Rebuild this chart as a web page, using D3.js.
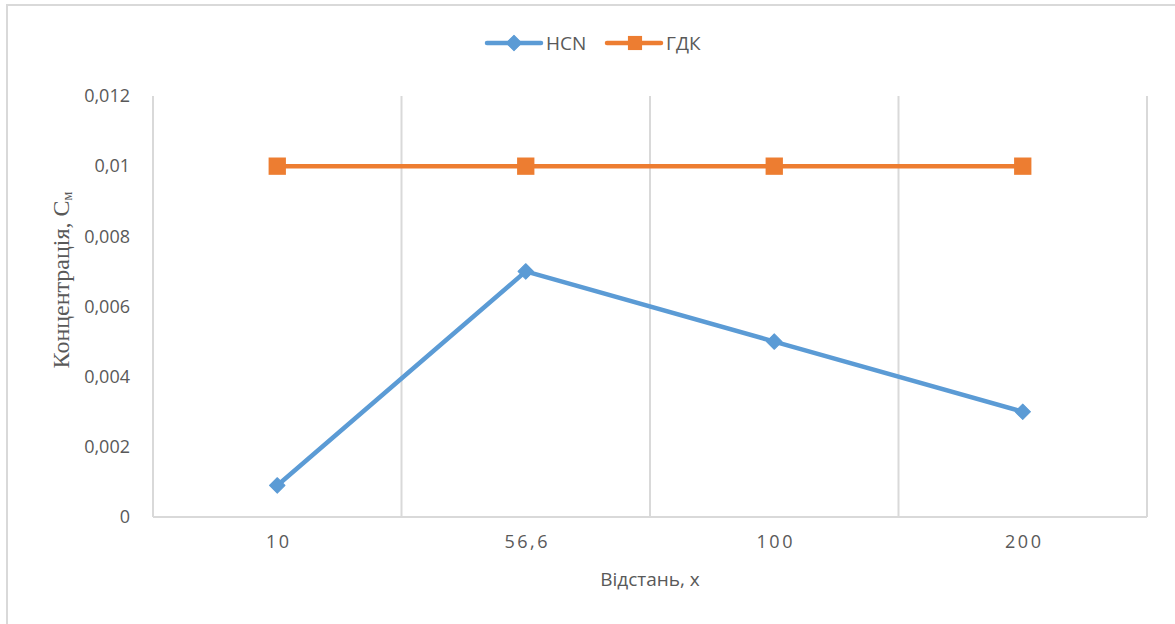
<!DOCTYPE html>
<html>
<head>
<meta charset="utf-8">
<script src="https://cdn.jsdelivr.net/npm/d3@7"></script>
<style>
  body { margin: 0; background: #fff; }
  text { font-family: "Open Sans", sans-serif; fill: #595959; }
</style>
</head>
<body>
<svg width="1175" height="624"></svg>
<script>
const categories = ['10', '56,6', '100', '200'];
const hcnValues = [0.0009, 0.007, 0.005, 0.003];
const gdkValues = [0.01, 0.01, 0.01, 0.01];
const yTicks = [0, 0.002, 0.004, 0.006, 0.008, 0.01, 0.012];
const yTickLabels = ['0', '0,002', '0,004', '0,006', '0,008', '0,01', '0,012'];

const svg = d3.select('svg');
const width = +svg.attr('width');
const height = +svg.attr('height');

// chart frame
svg.append('rect')
    .attr('x', 7).attr('y', 5)
    .attr('width', width + 10).attr('height', height + 10)
    .attr('fill', 'white')
    .attr('stroke', '#d9d9d9')
    .attr('stroke-width', 2);

const plot = { left: 153, right: 1147, top: 96, bottom: 517 };

const x = d3.scaleBand()
    .domain(categories)
    .range([plot.left, plot.right]);

const y = d3.scaleLinear()
    .domain([0, 0.012])
    .range([plot.bottom, plot.top]);

// vertical gridlines at category boundaries
const bounds = categories.map(c => x(c)).concat([plot.right]);
svg.append('g')
    .selectAll('line')
    .data(bounds)
    .join('line')
    .attr('x1', d => d).attr('x2', d => d)
    .attr('y1', plot.top).attr('y2', plot.bottom)
    .attr('stroke', '#d9d9d9')
    .attr('stroke-width', 2);

// bottom axis line
svg.append('line')
    .attr('x1', plot.left).attr('x2', plot.right)
    .attr('y1', plot.bottom).attr('y2', plot.bottom)
    .attr('stroke', '#d9d9d9')
    .attr('stroke-width', 2);

// y axis labels
const yAxis = svg.append('g')
    .attr('transform', `translate(${plot.left}, 0)`)
    .call(d3.axisLeft(y).tickValues(yTicks).tickFormat((d, i) => yTickLabels[i]).tickSize(0).tickPadding(23));
yAxis.select('.domain').remove();
yAxis.selectAll('text')
    .attr('font-size', 18)
    .attr('font-family', '"Open Sans", sans-serif')
    .attr('fill', '#595959');

// x axis labels
const xAxis = svg.append('g')
    .attr('transform', `translate(0, ${plot.bottom})`)
    .call(d3.axisBottom(x).tickSize(0).tickPadding(18));
xAxis.select('.domain').remove();
xAxis.selectAll('text')
    .attr('font-size', 18)
    .attr('font-family', '"Open Sans", sans-serif')
    .attr('fill', '#595959')
    .attr('letter-spacing', 2.5)
    .attr('dx', 1.5);

// axis titles
svg.append('text')
    .attr('x', 650).attr('y', 586)
    .attr('text-anchor', 'middle')
    .attr('font-size', 19)
    .text('Відстань, х');

const yTitle = svg.append('text')
    .attr('transform', 'translate(69, 280) rotate(-90)')
    .attr('text-anchor', 'middle')
    .style('font-family', '"Liberation Serif", "Times New Roman", serif')
    .attr('font-size', 24);
yTitle.append('tspan').text('Концентрація, С');
yTitle.append('tspan').attr('font-size', 14).attr('dy', 3).text('м');

const line = d3.line()
    .x((d, i) => x(categories[i]) + x.bandwidth() / 2)
    .y(d => y(d));

const blue = '#5b9bd5';
const orange = '#ed7d31';

// ГДК series
svg.append('path')
    .datum(gdkValues)
    .attr('d', line)
    .attr('fill', 'none')
    .attr('stroke', orange)
    .attr('stroke-width', 4.5)
    .attr('stroke-linejoin', 'round');

svg.append('g')
    .selectAll('path')
    .data(gdkValues)
    .join('path')
    .attr('d', d3.symbol(d3.symbolSquare, 300))
    .attr('transform', (d, i) => `translate(${x(categories[i]) + x.bandwidth() / 2}, ${y(d)})`)
    .attr('fill', orange);

// HCN series
svg.append('path')
    .datum(hcnValues)
    .attr('d', line)
    .attr('fill', 'none')
    .attr('stroke', blue)
    .attr('stroke-width', 4.5)
    .attr('stroke-linejoin', 'round');

svg.append('g')
    .selectAll('path')
    .data(hcnValues)
    .join('path')
    .attr('d', d3.symbol(d3.symbolSquare, 120))
    .attr('transform', (d, i) => `translate(${x(categories[i]) + x.bandwidth() / 2}, ${y(d)}) rotate(45)`)
    .attr('fill', blue)
    .attr('stroke', blue)
    .attr('stroke-width', 1)
    .attr('stroke-linejoin', 'round');

// legend
const legendItems = [
    { name: 'HCN', color: blue, x: 487 },
    { name: 'ГДК', color: orange, x: 607 }
];
const legend = svg.append('g').attr('transform', 'translate(0, 43)');
legendItems.forEach(item => {
    legend.append('line')
        .attr('x1', item.x).attr('x2', item.x + 54)
        .attr('stroke', item.color)
        .attr('stroke-width', 4.5)
        .attr('stroke-linecap', 'round');
    const sym = legend.append('path')
        .attr('fill', item.color);
    if (item.name === 'HCN') {
        sym.attr('d', d3.symbol(d3.symbolSquare, 120))
            .attr('transform', `translate(${item.x + 27}, 0) rotate(45)`)
            .attr('stroke', item.color).attr('stroke-linejoin', 'round');
    } else {
        sym.attr('d', d3.symbol(d3.symbolSquare, 200))
            .attr('transform', `translate(${item.x + 28}, 0)`);
    }
    legend.append('text')
        .attr('x', item.x + 59).attr('dy', '0.35em')
        .attr('font-size', 19)
        .text(item.name);
});
</script>
</body>
</html>
